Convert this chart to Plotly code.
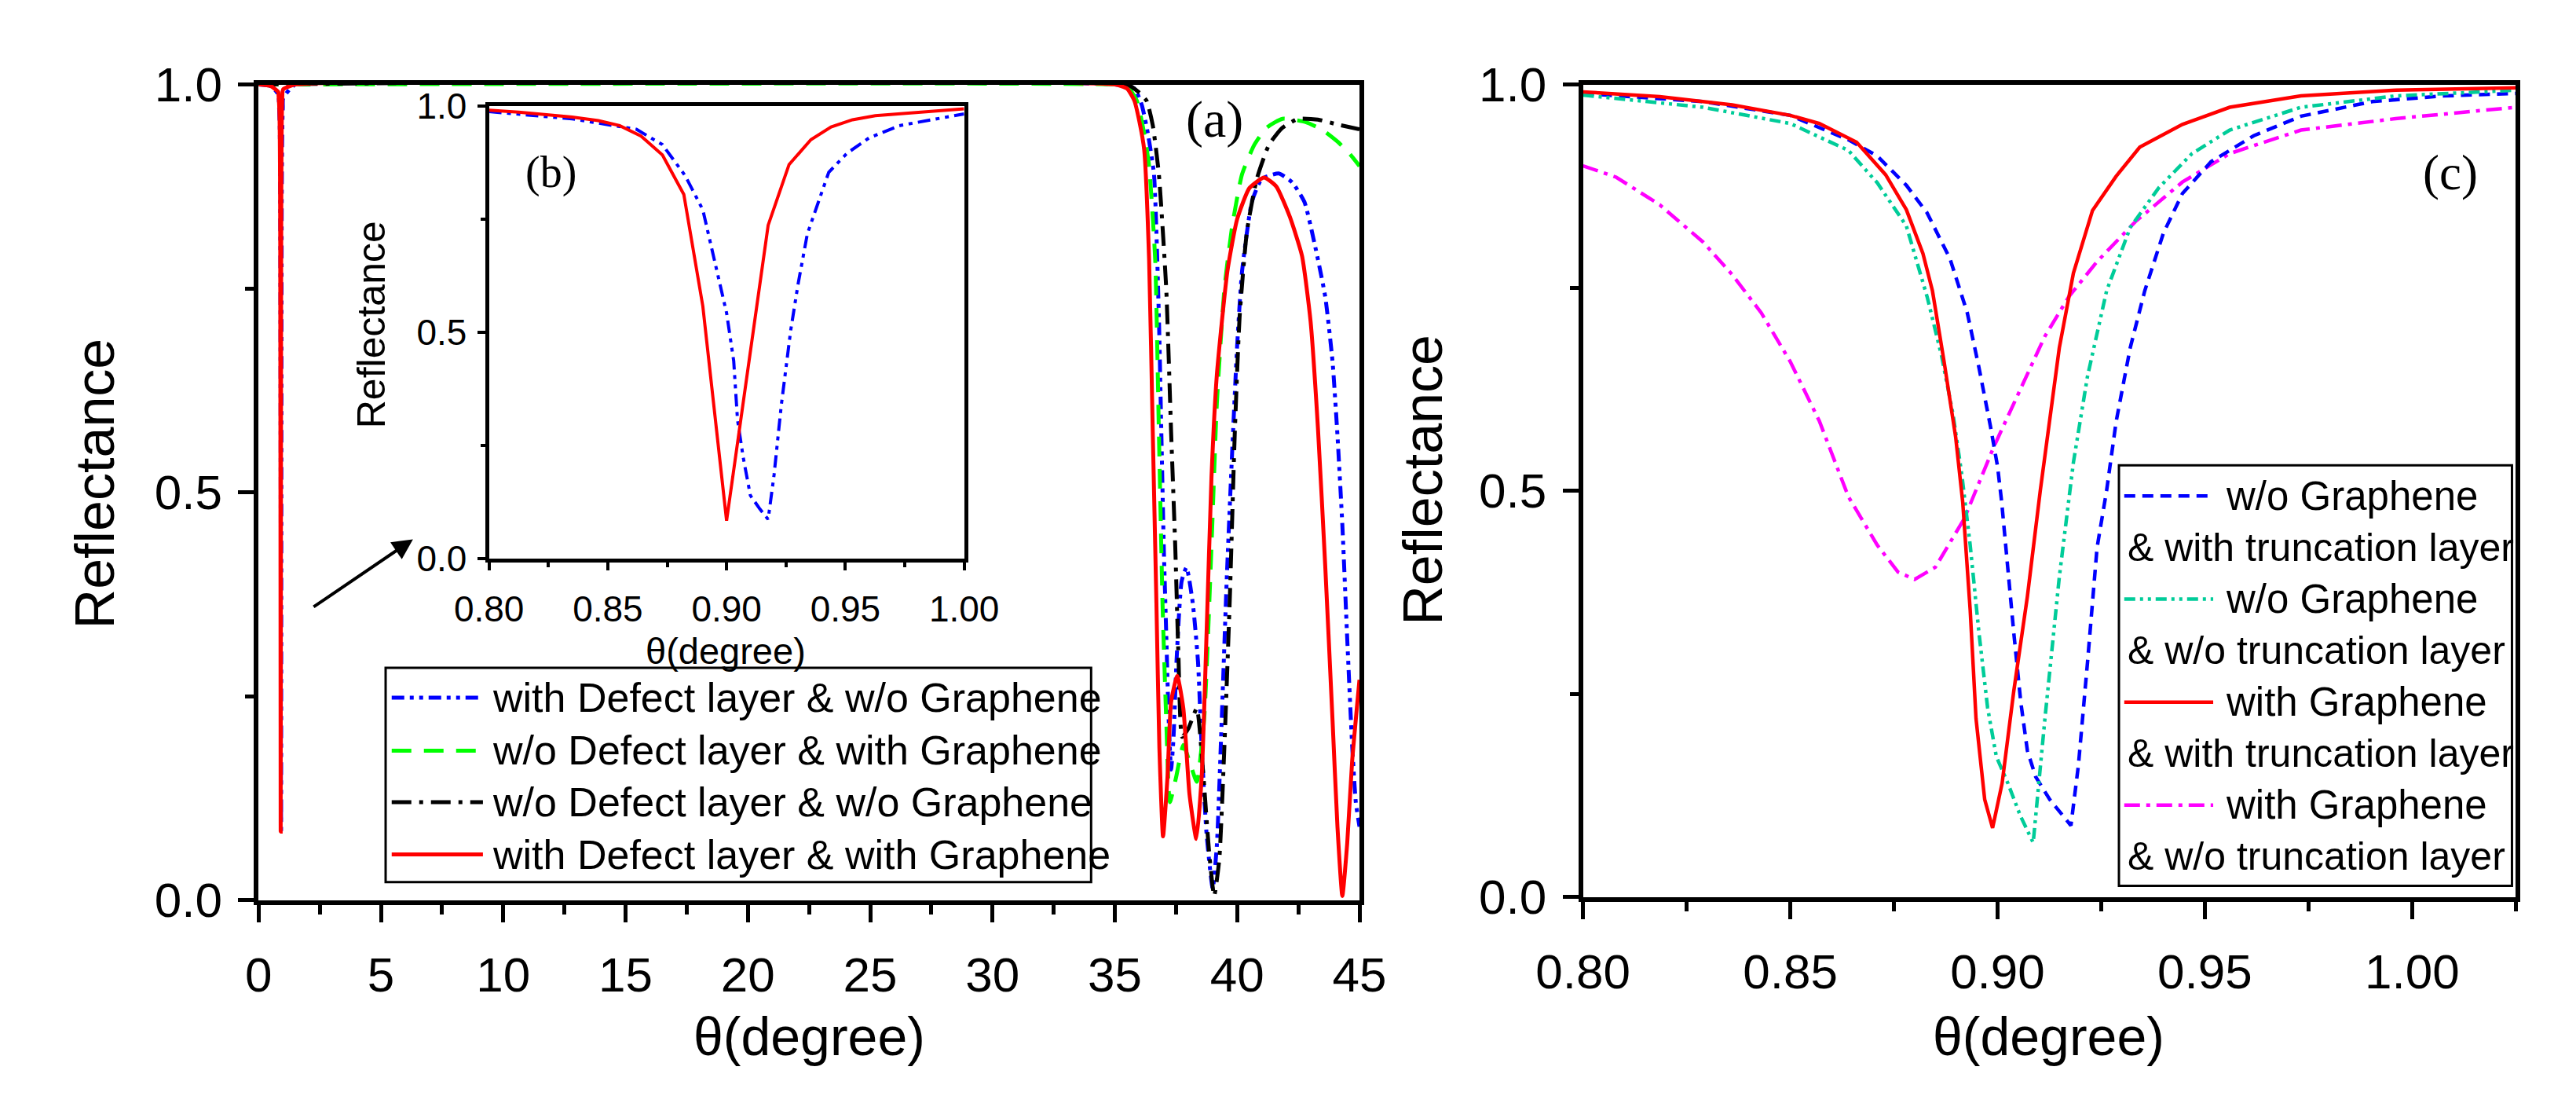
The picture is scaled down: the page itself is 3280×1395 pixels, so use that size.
"""Reflectance vs incidence angle: panel (a) with inset (b), and panel (c)."""

import plotly.graph_objects as go

# ── Data ─────────────────────────────────────────────────────────────────────

# inset (b): zoom on the narrow dip near 0.9 degree
INSET_THETA_RED = [0.80, 0.8125, 0.835, 0.846, 0.855, 0.864, 0.873, 0.882, 0.890,
                   0.900, 0.9175, 0.9263, 0.9355, 0.944, 0.953, 0.9626, 1.0]
INSET_R_RED = [0.991, 0.987, 0.976, 0.968, 0.957, 0.934, 0.892, 0.805, 0.558,
               0.084, 0.737, 0.871, 0.926, 0.954, 0.970, 0.979, 0.994]

INSET_THETA_BLUE = [0.80, 0.835, 0.862, 0.873, 0.8825, 0.890, 0.895, 0.900, 0.903,
                    0.9046, 0.907, 0.910, 0.914, 0.9175, 0.920, 0.923, 0.927, 0.930,
                    0.934, 0.938, 0.943, 0.9507, 0.960, 0.9727, 0.9875, 1.0]
INSET_R_BLUE = [0.988, 0.972, 0.949, 0.915, 0.847, 0.771, 0.657, 0.543, 0.437,
                0.307, 0.224, 0.140, 0.110, 0.087, 0.186, 0.338, 0.505, 0.604,
                0.718, 0.778, 0.854, 0.896, 0.930, 0.957, 0.972, 0.983]

# panel (a): 0-45 degree
A_THETA_RED = ([0.0, 0.5] + INSET_THETA_RED +
               [1.5, 35.0, 35.5, 35.8, 36.0, 36.2, 36.4, 36.55, 36.7, 36.82, 36.97,
                37.15, 37.3, 37.55, 37.8, 38.05, 38.33, 38.55, 38.75, 38.95, 39.17,
                39.6, 40.0, 40.5, 41.1, 41.6, 42.15, 42.65, 43.0, 43.3, 43.6, 43.9,
                44.1, 44.3, 44.5, 44.7, 45.0])
A_R_RED = ([1.0, 0.998] + INSET_R_RED +
           [1.0, 1.0, 0.995, 0.98, 0.955, 0.92, 0.785, 0.574, 0.363, 0.187, 0.078,
            0.15, 0.243, 0.275, 0.235, 0.13, 0.075, 0.151, 0.327, 0.518, 0.644,
            0.771, 0.835, 0.873, 0.886, 0.875, 0.838, 0.79, 0.71, 0.58, 0.41, 0.22,
            0.09, 0.005, 0.07, 0.17, 0.27])

A_THETA_BLUE = ([0.0, 0.5] + INSET_THETA_BLUE +
                [1.5, 35.0, 35.8, 36.1, 36.35, 36.6, 36.8, 36.9, 37.0, 37.1, 37.2,
                 37.3, 37.4, 37.52, 37.73, 37.93, 38.19, 38.4, 38.55, 38.75, 39.0,
                 39.17, 39.37, 39.58, 39.78, 40.0, 40.2, 40.6, 41.0, 41.7, 42.25,
                 42.75, 43.2, 43.6, 43.9, 44.1, 44.3, 44.5, 44.7, 44.85, 45.0])
A_R_BLUE = ([1.0, 0.998] + INSET_R_BLUE +
            [1.0, 1.0, 0.995, 0.975, 0.94, 0.89, 0.715, 0.574, 0.433, 0.327, 0.222,
             0.16, 0.2, 0.292, 0.391, 0.408, 0.363, 0.292, 0.187, 0.081, 0.014,
             0.067, 0.222, 0.398, 0.539, 0.68, 0.771, 0.856, 0.884, 0.891, 0.880,
             0.856, 0.80, 0.74, 0.66, 0.57, 0.46, 0.32, 0.19, 0.12, 0.09])

A_THETA_GREEN = [0.0, 35.0, 35.5, 35.9, 36.2, 36.4, 36.65, 36.8, 36.95, 37.1, 37.25,
                 37.5, 37.8, 38.05, 38.35, 38.65, 38.95, 39.17, 39.48, 39.8, 40.2,
                 40.7, 41.2, 41.85, 42.8, 43.5, 44.1, 44.6, 45.0]
A_R_GREEN = [1.0, 1.0, 0.998, 0.98, 0.94, 0.9, 0.785, 0.574, 0.363, 0.222, 0.12,
             0.15, 0.19, 0.17, 0.145, 0.222, 0.434, 0.609, 0.75, 0.827, 0.89,
             0.926, 0.947, 0.958, 0.954, 0.944, 0.93, 0.915, 0.9]

A_THETA_BLACK = [0.0, 35.5, 36.0, 36.3, 36.55, 36.8, 37.1, 37.3, 37.47, 37.6, 37.75,
                 38.0, 38.35, 38.6, 38.85, 39.06, 39.27, 39.48, 39.7, 39.9, 40.1,
                 40.4, 40.8, 41.3, 41.85, 42.5, 43.3, 44.1, 45.0]
A_R_BLACK = [1.0, 1.0, 0.99, 0.98, 0.95, 0.89, 0.75, 0.574, 0.433, 0.3, 0.2,
             0.21, 0.235, 0.16, 0.06, 0.005, 0.05, 0.19, 0.37, 0.57, 0.715,
             0.82, 0.884, 0.926, 0.947, 0.958, 0.957, 0.951, 0.945]

A_NAMES = ["with Defect layer & w/o Graphene", "w/o Defect layer & with Graphene",
           "w/o Defect layer & w/o Graphene", "with Defect layer & with Graphene"]

# panel (c): truncation layer comparison
C_THETA_BLUE = [0.80, 0.829, 0.85, 0.864, 0.871, 0.878, 0.883, 0.8885, 0.8927, 0.8955,
                0.8983, 0.900, 0.901, 0.9024, 0.9039, 0.9056, 0.9072, 0.9092, 0.9126,
                0.9177, 0.9195, 0.9217, 0.924, 0.9263, 0.9286, 0.932, 0.9355, 0.940,
                0.9446, 0.9515, 0.9618, 0.9732, 0.9904, 1.0076, 1.025]
C_R_BLUE = [0.989, 0.979, 0.962, 0.932, 0.912, 0.876, 0.842, 0.786, 0.719, 0.652,
            0.579, 0.53, 0.486, 0.406, 0.326, 0.24, 0.18, 0.148, 0.12,
            0.088, 0.162, 0.289, 0.43, 0.5, 0.585, 0.676, 0.746, 0.817,
            0.866, 0.905, 0.937, 0.961, 0.979, 0.986, 0.989]

C_THETA_GREEN = [0.80, 0.829, 0.85, 0.864, 0.871, 0.878, 0.883, 0.8865, 0.8893, 0.8914,
                 0.8934, 0.8955, 0.8976, 0.8997, 0.9025, 0.9055, 0.9086, 0.9114, 0.9149,
                 0.9183, 0.9217, 0.9263, 0.932, 0.9389, 0.9469, 0.956, 0.9732, 0.996,
                 1.025]
C_R_GREEN = [0.987, 0.972, 0.952, 0.919, 0.879, 0.826, 0.739, 0.666, 0.593, 0.519,
             0.433, 0.326, 0.233, 0.173, 0.14, 0.1, 0.067, 0.218, 0.394,
             0.535, 0.641, 0.746, 0.824, 0.873, 0.915, 0.944, 0.972, 0.986,
             0.993]

C_THETA_RED = [0.80, 0.8185, 0.836, 0.850, 0.857, 0.866, 0.873, 0.878, 0.882, 0.8843,
               0.8871, 0.8899, 0.8916, 0.8934, 0.8948, 0.8969, 0.8988, 0.9011, 0.9039,
               0.9072, 0.9103, 0.9149, 0.9183, 0.9229, 0.9286, 0.9343, 0.9446, 0.956,
               0.9732, 0.996, 1.025]
C_R_RED = [0.991, 0.985, 0.975, 0.962, 0.952, 0.929, 0.889, 0.846, 0.792, 0.746,
           0.659, 0.566, 0.486, 0.353, 0.22, 0.12, 0.085, 0.14, 0.253,
           0.37, 0.5, 0.676, 0.768, 0.845, 0.887, 0.923, 0.951, 0.972,
           0.986, 0.993, 0.996]

C_THETA_MAGENTA = [0.80, 0.808, 0.8185, 0.829, 0.836, 0.843, 0.850, 0.857, 0.864, 0.871,
                   0.876, 0.880, 0.885, 0.892, 0.899, 0.9057, 0.9114, 0.9172, 0.924,
                   0.9332, 0.9446, 0.956, 0.9732, 0.996, 1.025]
C_R_MAGENTA = [0.90, 0.886, 0.852, 0.806, 0.766, 0.719, 0.659, 0.586, 0.493, 0.433,
               0.40, 0.391, 0.406, 0.466, 0.553, 0.627, 0.69, 0.739, 0.782,
               0.831, 0.880, 0.915, 0.944, 0.958, 0.972]

C_LINE1 = ["w/o Graphene", "w/o Graphene", "with Graphene", "with Graphene"]
C_LINE2 = ["& with truncation layer", "& w/o truncation layer",
           "& with truncation layer", "& w/o truncation layer"]

# ── Styling ──────────────────────────────────────────────────────────────────

W, H = 3280, 1395
_SANS = "Liberation Sans, Arial, sans-serif"
_SERIF = "Liberation Serif, Times New Roman, serif"

_A_STYLES = [
    dict(color="#0000FF", dash="16px,7px,5px,7px,5px,7px"),
    dict(color="#00FF00", dash="25px,16px"),
    dict(color="#000000", dash="25px,10px,5px,10px"),
    dict(color="#FF0000", dash="solid"),
]
_C_STYLES = [
    dict(color="#0000FF", dash="14px,9px"),
    dict(color="#00CC99", dash="14px,6px,4px,6px,4px,6px"),
    dict(color="#FF0000", dash="solid"),
    dict(color="#FF00FF", dash="20px,8px,5px,8px"),
]


def px_x(v):
    return v / W


def px_y(v):
    return 1 - v / H


def axis(domain, rng, dtick, minor, ticklen, font_size, fmt, standoff, anchor, lw=6):
    return dict(
        domain=domain, range=rng, dtick=dtick, tick0=0, tickformat=fmt,
        showgrid=False, zeroline=False, showline=True, mirror=True,
        linecolor="black", linewidth=lw, ticks="outside", ticklen=ticklen,
        tickwidth=lw - 1, tickcolor="black", ticklabelstandoff=standoff,
        tickfont=dict(family=_SANS, size=font_size, color="black"),
        minor=dict(dtick=minor, ticklen=ticklen // 2 + 1, tickwidth=lw - 1,
                   tickcolor="black", ticks="outside", showgrid=False),
        anchor=anchor,
    )


fig = go.Figure()

# panel (a)
for th, r, name, st in zip(
    [A_THETA_BLUE, A_THETA_GREEN, A_THETA_BLACK, A_THETA_RED],
    [A_R_BLUE, A_R_GREEN, A_R_BLACK, A_R_RED],
    A_NAMES, _A_STYLES,
):
    fig.add_trace(go.Scatter(x=th, y=r, mode="lines", name=name, xaxis="x", yaxis="y",
                             line=dict(color=st["color"], dash=st["dash"], width=5,
                                       shape="spline", smoothing=0.5),
                             showlegend=False))

# inset (b)
for th, r, st in zip([INSET_THETA_BLUE, INSET_THETA_RED], [INSET_R_BLUE, INSET_R_RED],
                     [_A_STYLES[0], _A_STYLES[3]]):
    fig.add_trace(go.Scatter(x=th, y=r, mode="lines", xaxis="x3", yaxis="y3",
                             line=dict(color=st["color"], dash=st["dash"], width=4),
                             showlegend=False))

# panel (c)
for th, r, st in zip(
    [C_THETA_MAGENTA, C_THETA_BLUE, C_THETA_GREEN, C_THETA_RED],
    [C_R_MAGENTA, C_R_BLUE, C_R_GREEN, C_R_RED],
    [_C_STYLES[3], _C_STYLES[0], _C_STYLES[1], _C_STYLES[2]],
):
    fig.add_trace(go.Scatter(x=th, y=r, mode="lines", xaxis="x2", yaxis="y2",
                             line=dict(color=st["color"], dash=st["dash"], width=4.5),
                             showlegend=False))

# ── Axes ─────────────────────────────────────────────────────────────────────

fig.update_layout(
    width=W, height=H,
    margin=dict(l=0, r=0, t=0, b=0),
    paper_bgcolor="white", plot_bgcolor="white",
    xaxis=axis([px_x(270), px_x(1718)], [0, 45], 5, 2.5, 22, 62, "d", 14, "y"),
    yaxis=axis([px_y(1161), px_y(69)], [0, 1], 0.5, 0.25, 20, 62, ".1f", 8, "x"),
    xaxis2=axis([px_x(2012), px_x(3239)], [0.8, 1.025], 0.05, 0.025, 22, 62, ".2f", 14, "y2"),
    yaxis2=axis([px_y(1157), px_y(69)], [0, 1], 0.5, 0.25, 20, 62, ".1f", 8, "x2"),
    xaxis3=axis([px_x(573), px_x(1198)], [0.8, 1.0], 0.05, 0.025, 10, 46, ".2f", 10, "y3", lw=5),
    yaxis3=axis([px_y(704), px_y(98)], [0, 1], 0.5, 0.25, 10, 46, ".1f", 4, "x3", lw=5),
)
fig.layout.xaxis2.tick0 = 0.8
fig.layout.xaxis3.tick0 = 0.8

# inset background
fig.add_shape(type="rect", xref="paper", yref="paper", layer="below",
              x0=px_x(573), x1=px_x(1198), y0=px_y(704), y1=px_y(98),
              fillcolor="white", line=dict(width=0))

# ── Titles, labels, arrow ────────────────────────────────────────────────────

def note(text, x, y, size, family=_SANS, angle=0, xanchor="center"):
    fig.add_annotation(text=text, x=px_x(x), y=px_y(y), xref="paper", yref="paper",
                       showarrow=False, textangle=angle, xanchor=xanchor, yanchor="middle",
                       font=dict(family=family, size=size, color="black"))


note("Reflectance", 55, 603, 70, angle=-90)
note("Reflectance", 1802, 598, 70, angle=-90)
note("θ(degree)", 994, 1343, 68)
note("θ(degree)", 2625, 1343, 68)
note("Reflectance", 418, 391, 50, angle=-90)
note("θ(degree)", 884, 827, 47)
note("(a)", 1527, 116, 66, family=_SERIF)
note("(b)", 654, 187, 56, family=_SERIF)
note("(c)", 3153, 187, 63, family=_SERIF)

fig.add_annotation(x=px_x(473), y=px_y(678), xref="paper", yref="paper",
                   ax=345 - 473, ay=765 - 678, axref="pixel", ayref="pixel",
                   showarrow=True, arrowhead=2, arrowsize=1.3, arrowwidth=4,
                   arrowcolor="black", text="")

# ── Legends drawn by hand (line sample + text) ───────────────────────────────

fig.add_shape(type="rect", xref="paper", yref="paper",
              x0=px_x(437), x1=px_x(1365), y0=px_y(1137), y1=px_y(850),
              fillcolor="white", line=dict(color="black", width=3))
for row_y, name, st in zip([890, 961, 1030, 1100], A_NAMES, _A_STYLES):
    fig.add_shape(type="line", xref="paper", yref="paper",
                  x0=px_x(445), x1=px_x(565), y0=px_y(row_y), y1=px_y(row_y),
                  line=dict(color=st["color"], dash=st["dash"], width=5))
    note(name, 575, row_y, 52, xanchor="left")

fig.add_shape(type="rect", xref="paper", yref="paper",
              x0=px_x(2717), x1=px_x(3234), y0=px_y(1142), y1=px_y(579),
              fillcolor="white", line=dict(color="black", width=3))
for i, (l1, l2, st) in enumerate(zip(C_LINE1, C_LINE2, _C_STYLES)):
    y1 = 620 + i * 138
    fig.add_shape(type="line", xref="paper", yref="paper",
                  x0=px_x(2724), x1=px_x(2841), y0=px_y(y1), y1=px_y(y1),
                  line=dict(color=st["color"], dash=st["dash"], width=4.5))
    note(l1, 2855, y1, 51, xanchor="left")
    note(l2, 2726, y1 + 69, 50, xanchor="left")

fig.write_html("out.html")
